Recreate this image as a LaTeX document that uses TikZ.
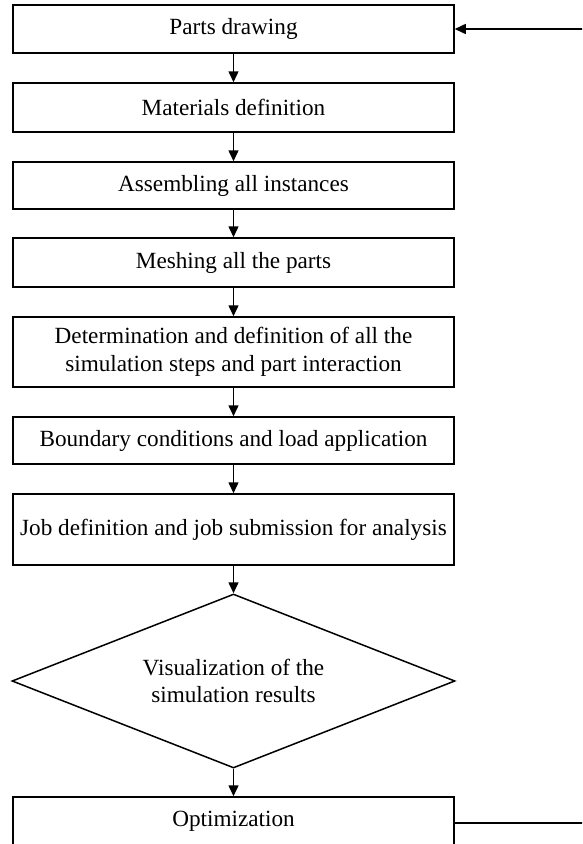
\documentclass[tikz,border=0pt]{standalone}
\usepackage{fontspec}
\setmainfont{Liberation Serif}
\usetikzlibrary{shapes.geometric,arrows.meta}
\begin{document}
\begin{tikzpicture}[x=1pt,y=-1pt,
  every node/.style={font=\fontsize{23.2}{27.8}\selectfont, align=center, inner sep=0pt},
  stepbox/.style={draw, line width=1.5pt, rectangle, minimum width=441pt},
  decide/.style={draw, line width=1.5pt, diamond, minimum width=443pt, minimum height=174pt, shape aspect=2.55},
  flow/.style={line width=1.5pt, -{Triangle[length=11pt,width=10pt]}}]
\useasboundingbox (0,0) rectangle (582,844);
\clip (0,0) rectangle (582,844);
\node[stepbox, minimum height=48pt] (parts) at (233.5,29) {Parts drawing};
\node[stepbox, minimum height=49pt] (mat) at (233.5,107.5) {Materials definition};
\node[stepbox, minimum height=47pt] (asm) at (233.5,185.5) {Assembling all instances};
\node[stepbox, minimum height=49pt] (mesh) at (233.5,262.5) {Meshing all the parts};
\node[stepbox, minimum height=70pt] (det) at (233.5,352) {Determination and definition of all the\\simulation steps and part interaction};
\node[stepbox, minimum height=47pt] (bc) at (233.5,440.5) {Boundary conditions and load application};
\node[stepbox, minimum height=71pt] (job) at (233.5,529.5) {Job definition and job submission for analysis};
\node[decide] (vis) at (233.5,681) {Visualization of the\\simulation results};
\node[stepbox, minimum height=49pt] (opt) at (233.5,821.5) {Optimization};
\draw[flow] (parts) -- (mat);
\draw[flow] (mat) -- (asm);
\draw[flow] (asm) -- (mesh);
\draw[flow] (mesh) -- (det);
\draw[flow] (det) -- (bc);
\draw[flow] (bc) -- (job);
\draw[flow] (job) -- (vis);
\draw[flow] (vis) -- (opt);
\coordinate (loopR) at (610,823);
\draw[flow] (opt.east |- loopR) -- (loopR) |- (parts.east);
\end{tikzpicture}
\end{document}
